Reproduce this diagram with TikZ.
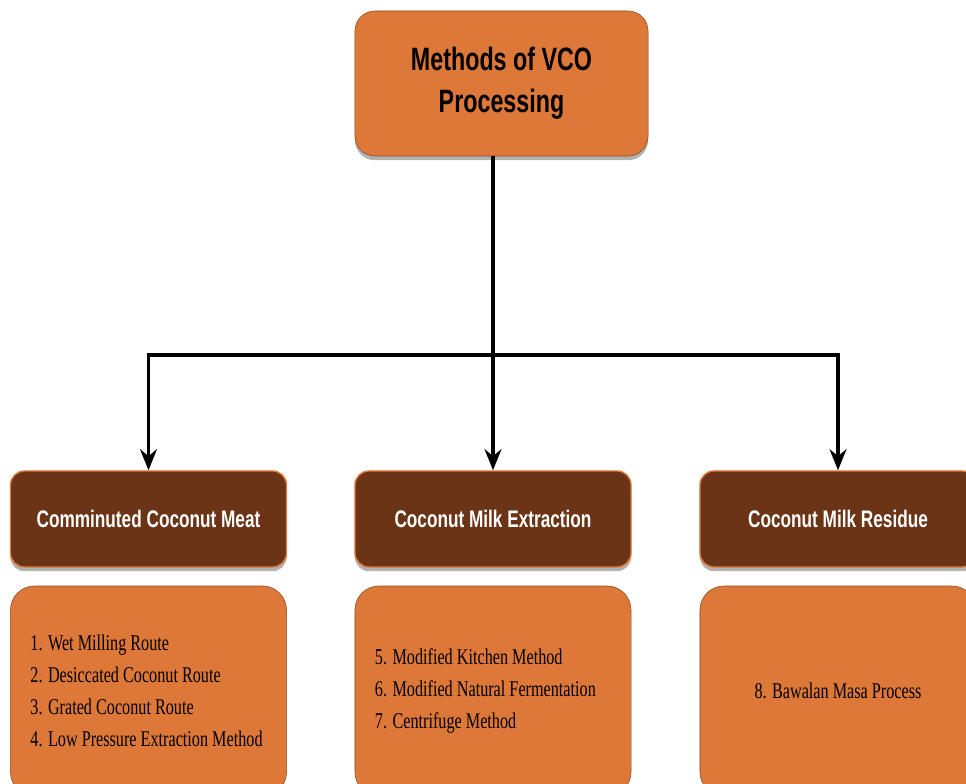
\documentclass[tikz,border=0pt]{standalone}
\usepackage{fontspec}
\setmainfont{Liberation Serif}
\newfontfamily\headfont[FakeStretch=0.72]{Liberation Sans}
\newfontfamily\listfont[FakeStretch=0.72]{Liberation Serif}
\usetikzlibrary{positioning}
\usetikzlibrary{shadows,arrows.meta}

\definecolor{vcoorange}{HTML}{DE7838}
\definecolor{vcobrown}{HTML}{6B3416}
\definecolor{vcoedge}{HTML}{8A4A22}

\tikzset{
  boxshadow/.style={drop shadow={shadow xshift=0pt,shadow yshift=-3pt,opacity=0.3,fill=black}},
  topbox/.style={draw=vcoedge,thin,fill=vcoorange,rounded corners=0.5cm,boxshadow,
    minimum width=7.325cm,minimum height=3.625cm,align=center,
    font=\headfont\bfseries\fontsize{23}{30}\selectfont},
  headbox/.style={draw=vcoorange,line width=1pt,fill=vcobrown,rounded corners=0.35cm,boxshadow,
    minimum width=6.9cm,minimum height=2.4cm,text=white,
    font=\headfont\bfseries\fontsize{17}{21}\selectfont},
  listbox/.style={draw=vcoedge,thin,fill=vcoorange,rounded corners=0.6cm,
    minimum width=6.9cm,minimum height=5.25cm,text width=5.9cm,
    font=\listfont\fontsize{16}{22.8}\selectfont},
  link/.style={line width=2.6pt,-{Stealth[length=15pt,width=12pt,inset=5pt]}}
}

\begin{document}
\begin{tikzpicture}[x=0.025cm,y=0.025cm]
 \clip (0,0) rectangle (966,-783);
 % root
 \node[topbox] (vco) at (501.5,-83.5) {Methods of VCO\\Processing};
 % routes
 \node[headbox] (meat) at (148.5,-519) {Comminuted Coconut Meat};
 \node[headbox] (milk) at (493,-519) {Coconut Milk Extraction};
 \node[headbox] (resid) at (838,-519) {Coconut Milk Residue};
 % methods
 \node[listbox,align=flush left,below=0.45cm of meat] (meatlist) {1. Wet Milling Route\\2. Desiccated Coconut Route\\3. Grated Coconut Route\\4. Low Pressure Extraction Method};
 \node[listbox,align=flush left,below=0.45cm of milk] (milklist) {5. Modified Kitchen Method\\6. Modified Natural Fermentation\\7. Centrifuge Method};
 \node[listbox,align=flush center,below=0.45cm of resid] (residlist) {8. Bawalan Masa Process};
 % connectors
 \coordinate (split) at (493,-355);
 \draw[line width=2.6pt] (vco.south -| split) -- (split);
 \draw[link] (split) -| (meat.north);
 \draw[link] (split) -| (resid.north);
 \draw[link] (split) -- (milk.north);
\end{tikzpicture}
\end{document}
